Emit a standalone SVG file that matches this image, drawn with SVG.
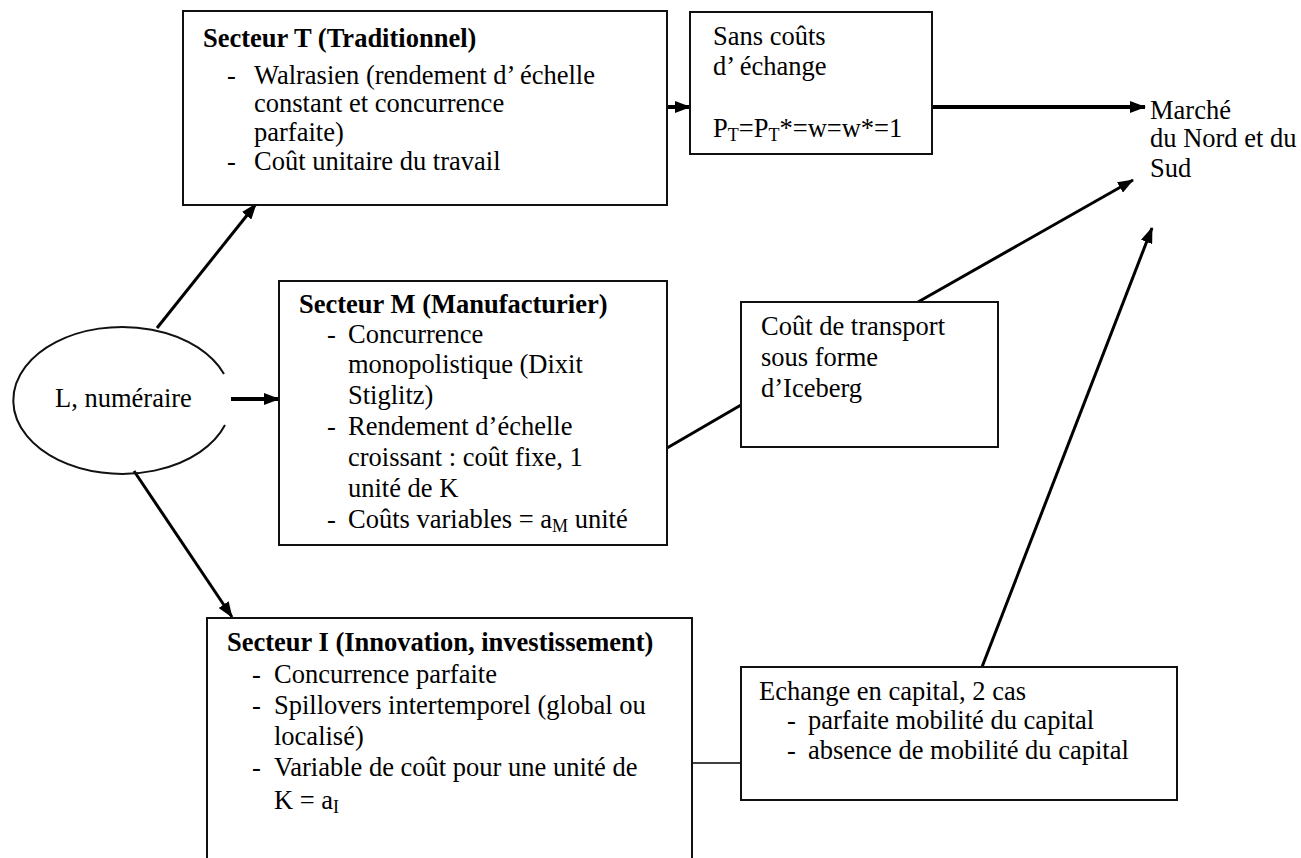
<svg xmlns="http://www.w3.org/2000/svg" width="1301" height="858" viewBox="0 0 1301 858">
<defs>
<marker id="ah" markerUnits="userSpaceOnUse" markerWidth="16" markerHeight="12" refX="15" refY="6" orient="auto">
<path d="M0,0 L16,6 L0,12 z" fill="#000"/>
</marker>
<style>
text{font-family:"Liberation Serif","Times New Roman",serif;font-size:26.5px;fill:#000}
.b{font-weight:bold}
.box{fill:#fff;stroke:#111;stroke-width:2}
.c{stroke:#000;fill:none}
.sub{font-size:18px}
</style>
</defs>
<rect width="1301" height="858" fill="#fff"/>
<g id="connectors">
<line class="c" x1="667" y1="107" x2="690" y2="107" stroke-width="4" marker-end="url(#ah)"/>
<line class="c" x1="932" y1="107" x2="1145" y2="107" stroke-width="4" marker-end="url(#ah)"/>
<line class="c" x1="157" y1="328" x2="256" y2="204" stroke-width="3" marker-end="url(#ah)"/>
<line class="c" x1="231" y1="399" x2="279" y2="399" stroke-width="4" marker-end="url(#ah)"/>
<line class="c" x1="134" y1="471" x2="232" y2="617" stroke-width="3" marker-end="url(#ah)"/>
<line class="c" x1="667" y1="448" x2="741" y2="405" stroke-width="3"/>
<line class="c" x1="918" y1="302" x2="1133" y2="180" stroke-width="3" marker-end="url(#ah)"/>
<line class="c" x1="982" y1="667" x2="1152" y2="228" stroke-width="3" marker-end="url(#ah)"/>
<line class="c" x1="692" y1="763" x2="741" y2="763" stroke-width="1.5"/>
</g>
<g id="secteur-t">
<rect class="box" x="183" y="11" width="484" height="194"/>
<text class="b" x="203" y="47">Secteur T (Traditionnel)</text>
<text x="227" y="84">-</text><text x="254" y="84">Walrasien (rendement d’ échelle</text>
<text x="254" y="112">constant et concurrence</text>
<text x="254" y="141">parfaite)</text>
<text x="227" y="170">-</text><text x="254" y="170">Coût unitaire du travail</text>
</g>
<g id="sans-couts">
<rect class="box" x="690" y="12" width="242" height="142"/>
<text x="713" y="45">Sans coûts</text>
<text x="713" y="75">d’ échange</text>
<text x="713" y="137">P<tspan class="sub" dy="4">T</tspan><tspan dy="-4">=P</tspan><tspan class="sub" dy="4">T</tspan><tspan dy="-4">*=w=w*=1</tspan></text>
</g>
<g id="marche">
<text x="1150" y="119">Marché</text>
<text x="1150" y="147">du Nord et du</text>
<text x="1150" y="177">Sud</text>
</g>
<g id="numeraire">
<path d="M224,374 A109,73.5 0 1 0 225,425" fill="none" stroke="#111" stroke-width="2"/>
<text x="55" y="407">L, numéraire</text>
</g>
<g id="secteur-m">
<rect class="box" x="279" y="281" width="388" height="264"/>
<text class="b" x="299" y="313">Secteur M (Manufacturier)</text>
<text x="327" y="343">-</text><text x="348" y="343">Concurrence</text>
<text x="348" y="373">monopolistique (Dixit</text>
<text x="348" y="404">Stiglitz)</text>
<text x="327" y="435">-</text><text x="348" y="435">Rendement d’échelle</text>
<text x="348" y="466">croissant : coût fixe, 1</text>
<text x="348" y="497">unité de K</text>
<text x="327" y="528">-</text><text x="348" y="528">Coûts variables = a<tspan class="sub" dy="4">M</tspan><tspan dy="-4"> unité</tspan></text>
</g>
<g id="transport">
<rect class="box" x="741" y="302" width="257" height="145"/>
<text x="761" y="335">Coût de transport</text>
<text x="761" y="366">sous forme</text>
<text x="761" y="397">d’Iceberg</text>
</g>
<g id="secteur-i">
<path class="box" d="M207,860 V618 H692 V860"/>
<text class="b" x="227" y="651">Secteur I (Innovation, investissement)</text>
<text x="252" y="683">-</text><text x="274" y="683">Concurrence parfaite</text>
<text x="252" y="714">-</text><text x="274" y="714">Spillovers intertemporel (global ou</text>
<text x="274" y="745">localisé)</text>
<text x="252" y="776">-</text><text x="274" y="776">Variable de coût pour une unité de</text>
<text x="274" y="809">K = a<tspan class="sub" dy="4">I</tspan></text>
</g>
<g id="echange">
<rect class="box" x="741" y="667" width="436" height="133"/>
<text x="759" y="700">Echange en capital, 2 cas</text>
<text x="787" y="729">-</text><text x="808" y="729">parfaite mobilité du capital</text>
<text x="787" y="759">-</text><text x="808" y="759">absence de mobilité du capital</text>
</g>
</svg>
